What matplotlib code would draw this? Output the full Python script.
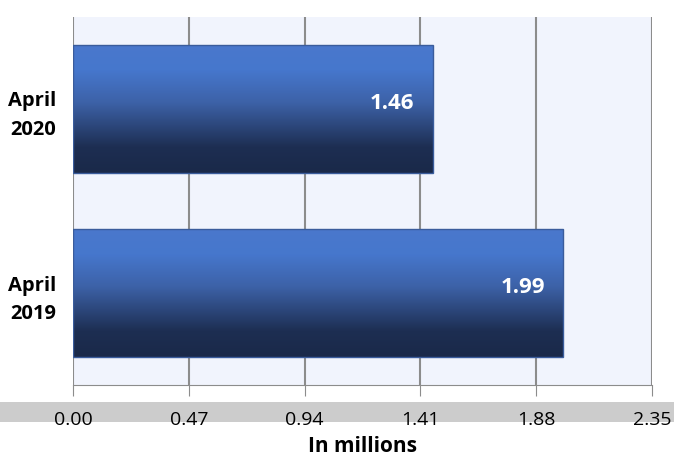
import numpy as np
import matplotlib.pyplot as plt
from matplotlib.colors import LinearSegmentedColormap
from matplotlib.patches import Rectangle

plt.rcParams['font.family'] = ['Open Sans', 'DejaVu Sans']

categories = ["April\n2019", "April\n2020"]
values = [1.99, 1.46]
tick_values = [0.00, 0.47, 0.94, 1.41, 1.88, 2.35]

fig = plt.figure(figsize=(6.74, 4.59), dpi=100)

# grey band behind the tick labels
fig.patches.append(Rectangle((0, 0.0806), 1, 0.0436, transform=fig.transFigure,
                             facecolor='#cccccc', edgecolor='none', zorder=0))

ax = fig.add_axes([0.1083, 0.1612, 0.8590, 0.8018])
ax.set_zorder(2)
ax.set_facecolor('#f1f4fd')
ax.set_xlim(0, 2.35)
ax.set_ylim(-0.5, 1.5)

# vertical gradient: light blue on top, navy at the bottom
cmap = LinearSegmentedColormap.from_list(
    'bar', [(0, '#1a2949'), (0.2, '#1d2e52'), (0.55, '#3d62a8'), (0.8, '#4677cd'), (1, '#4a78cc')])
grad = np.linspace(0, 1, 256).reshape(-1, 1)
h = 0.7
for i, v in enumerate(values):
    y0, y1 = i - h / 2, i + h / 2
    im = ax.imshow(grad, cmap=cmap, aspect='auto', origin='lower',
                   extent=(0, v, y0, y1), zorder=2)
    rect = Rectangle((0, y0), v, h, facecolor='none', edgecolor='#3a5c9c', lw=1, zorder=3)
    ax.add_patch(rect)
    im.set_clip_path(rect)
    ax.text(v - 0.075, i + 0.03, f"{v:.2f}", color='white', fontsize=16, fontweight='bold',
            ha='right', va='center', zorder=4)

ax.set_xticks(tick_values)
ax.set_xticklabels([f"{t:.2f}" for t in tick_values], fontsize=14)
ax.set_yticks(range(len(categories)))
ax.set_yticklabels(categories, fontsize=14.5, fontweight='bold', linespacing=1.55)
ax.tick_params(axis='y', length=0, pad=12)
ax.tick_params(axis='x', length=8, color='#8c8c8c', pad=11)
ax.grid(axis='x', color='#8c8c8c', lw=1.5, zorder=1)
ax.set_axisbelow(True)
for s in ['top', 'right', 'left']:
    ax.spines[s].set_visible(False)
ax.spines['bottom'].set_color('#8c8c8c')
ax.set_xlabel("In millions", fontsize=15, fontweight='bold', labelpad=5)

fig.savefig('out.png', dpi=100)
